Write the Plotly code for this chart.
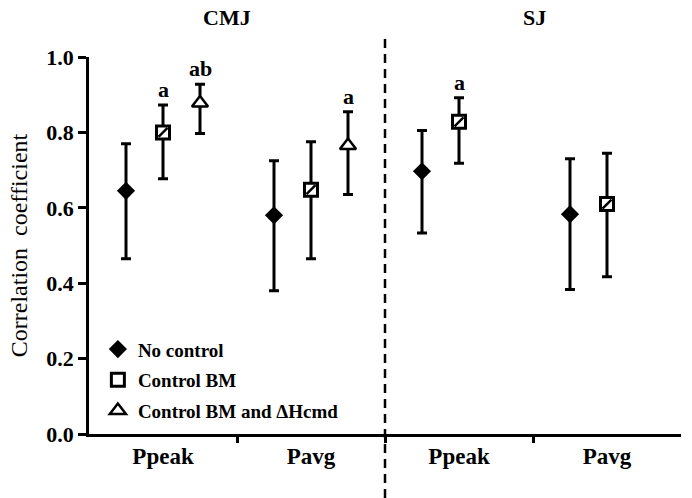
import plotly.graph_objects as go

categories = ["Ppeak", "Pavg", "Ppeak", "Pavg"]
groups = ["CMJ", "SJ"]
group_pos = [0.43, 2.51]

nc_val = [0.645, 0.580, 0.697, 0.583]
nc_lo = [0.465, 0.380, 0.533, 0.383]
nc_hi = [0.770, 0.725, 0.805, 0.730]

bm_val = [0.800, 0.648, 0.828, 0.610]
bm_lo = [0.677, 0.465, 0.718, 0.417]
bm_hi = [0.873, 0.775, 0.892, 0.745]

bh_val = [0.878, 0.765]
bh_lo = [0.797, 0.635]
bh_hi = [0.928, 0.855]

sig_labels = [
    # (series, category index, label)
    ("bm", 0, "a"),
    ("bh", 0, "ab"),
    ("bh", 1, "a"),
    ("bm", 2, "a"),
]

FONT = "Liberation Serif"
offsets = {"nc": -0.25, "bm": 0.0, "bh": 0.25}


def xs(key, n):
    return [i + offsets[key] for i in range(n)]


def err(vals, lo, hi):
    return dict(type="data", symmetric=False,
                array=[h - v for v, h in zip(vals, hi)],
                arrayminus=[v - l for v, l in zip(vals, lo)],
                color="black", thickness=3, width=5)


fig = go.Figure()
fig.add_trace(go.Scatter(
    x=xs("nc", 4), y=nc_val, mode="markers", name="No control",
    legendgroup="nc",
    marker=dict(symbol="diamond", size=14, color="black"),
    error_y=err(nc_val, nc_lo, nc_hi)))
fig.add_trace(go.Scatter(
    x=xs("bm", 4), y=bm_val, mode="markers", name="Control BM",
    legendgroup="bm",
    marker=dict(symbol="square", size=13, color="white",
                line=dict(color="black", width=3)),
    error_y=err(bm_val, bm_lo, bm_hi)))
fig.add_trace(go.Scatter(
    x=xs("bm", 4), y=bm_val, mode="markers", showlegend=False,
    legendgroup="bm", hoverinfo="skip",
    marker=dict(symbol="line-ne", size=9,
                line=dict(color="black", width=2.5))))
fig.add_trace(go.Scatter(
    x=xs("bh", 2), y=bh_val, mode="markers", name="Control BM and ΔHcmd",
    legendgroup="bh",
    marker=dict(symbol="triangle-up", size=14, color="white",
                line=dict(color="black", width=2.5)),
    error_y=err(bh_val, bh_lo, bh_hi)))

hi_map = {"bm": bm_hi, "bh": bh_hi}
for key, idx, lab in sig_labels:
    fig.add_annotation(x=idx + offsets[key], y=hi_map[key][idx], text=lab,
                       showarrow=False, yanchor="bottom", yshift=1,
                       font=dict(family=FONT, size=22, color="black",
                                 weight="bold"))

for g, gx in zip(groups, group_pos):
    fig.add_annotation(x=gx, y=1.106, xref="x", yref="paper",
                       text=g, showarrow=False, yanchor="middle",
                       font=dict(family=FONT, size=22, color="black",
                                 weight="bold"))

fig.add_shape(type="line", x0=1.5, x1=1.5, xref="x", y0=-0.17, y1=1.05,
              yref="paper", line=dict(color="black", width=2.5,
                                      dash="9px,6px"))

fig.update_layout(
    width=692, height=498,
    margin=dict(l=89, r=11, t=57, b=64),
    paper_bgcolor="white", plot_bgcolor="white",
    showlegend=True,
    legend=dict(x=0.015, y=0.01, xanchor="left", yanchor="bottom",
                bgcolor="rgba(0,0,0,0)", tracegroupgap=3,
                font=dict(family=FONT, size=19, color="black",
                          weight="bold")),
    font=dict(family=FONT, color="black"),
)
fig.update_xaxes(
    range=[-0.5, 3.5], tickmode="array", tickvals=[0, 1, 2, 3],
    ticktext=categories, ticks="", showgrid=False, zeroline=False,
    showline=True, linecolor="black", linewidth=2.5,
    tickfont=dict(family=FONT, size=23, color="black", weight="bold"),
    minor=dict(tickvals=[0.5, 1.5, 2.5], ticks="outside", ticklen=6,
               tickwidth=2.5, tickcolor="black", showgrid=False),
)
fig.update_yaxes(
    range=[0, 1], tickmode="array", tickvals=[0, 0.2, 0.4, 0.6, 0.8, 1.0],
    tickformat=".1f", ticks="outside", ticklen=8, tickwidth=2.5,
    tickcolor="black", showgrid=False, zeroline=False, showline=True,
    linecolor="black", linewidth=2.5,
    tickfont=dict(family=FONT, size=22, color="black", weight="bold"),
    title=dict(text="Correlation  coefficient", standoff=12,
               font=dict(family=FONT, size=24, color="black")),
)

fig.write_html("out.html", config={"displayModeBar": False},
               post_script="document.body.style.margin='0';")
